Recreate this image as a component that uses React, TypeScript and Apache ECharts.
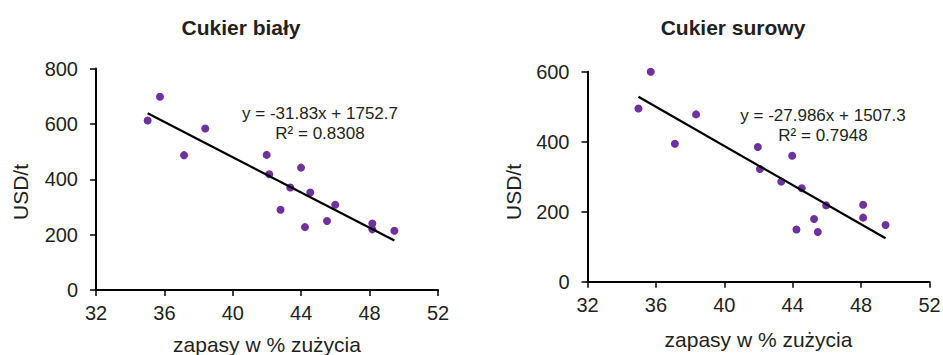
import React, { useEffect, useRef } from "react";
import * as echarts from "echarts";

// stocks as % of consumption (x) and prices USD/t (y)
const whiteX = [35.02, 35.74, 37.15, 38.39, 41.98, 42.13, 42.79, 43.36, 43.99, 44.22, 44.53, 45.51, 45.99, 48.16, 48.16, 49.45];
const whiteY = [612, 698, 487, 583, 488, 418, 290, 370, 442, 227, 352, 249, 308, 240, 219, 214];
const rawX = [34.98, 35.70, 37.11, 38.35, 41.96, 42.08, 43.33, 43.97, 44.22, 44.53, 45.25, 45.47, 45.96, 48.12, 48.12, 49.43];
const rawY = [495, 600, 394, 478, 385, 322, 286, 360, 149, 267, 179, 142, 218, 220, 183, 162];

// trend line coefficients [slope, intercept] and labels
const whiteTrend = [-31.83, 1752.7];
const rawTrend = [-27.986, 1507.3];
const whiteEq = ["y = -31.83x + 1752.7", "R² = 0.8308"];
const rawEq = ["y = -27.986x + 1507.3", "R² = 0.7948"];

const titles = ["Cukier biały", "Cukier surowy"];
const xName = "zapasy w % zużycia";
const yName = "USD/t";
const xTicks = [32, 36, 40, 44, 48, 52];
const whiteYTicks = [0, 200, 400, 600, 800];
const rawYTicks = [0, 200, 400, 600];

const FONT = "Liberation Sans, Arial, sans-serif";
const TXT = "#231f20";
const DOT = "#7030A0";

function pts(xs: number[], ys: number[]) {
  return xs.map((x, i) => [x, ys[i]]);
}
function trend(xs: number[], c: number[]) {
  const lo = Math.min(...xs);
  const hi = Math.max(...xs);
  return [lo, hi].map((x) => [x, c[0] * x + c[1]]);
}

export default function App() {
  const ref = useRef<HTMLDivElement>(null);
  useEffect(() => {
    const chart = echarts.init(ref.current!, null, { renderer: "svg" });
    const axisCommon = {
      axisLine: { show: true, lineStyle: { color: "#000", width: 2 } },
      axisTick: { show: true, inside: false, length: 6, lineStyle: { color: "#000", width: 1.5 } },
      splitLine: { show: false },
    };
    const xAxis = (gi: number, gap: number) => ({
      type: "value",
      gridIndex: gi,
      min: xTicks[0],
      max: xTicks[xTicks.length - 1],
      interval: xTicks[1] - xTicks[0],
      ...axisCommon,
      axisLabel: { color: TXT, fontSize: 20, fontFamily: FONT, margin: 13 },
      name: xName,
      nameLocation: "middle",
      nameGap: gap,
      nameTextStyle: { color: TXT, fontSize: 21, fontFamily: FONT },
    });
    const yAxis = (gi: number, ticks: number[]) => ({
      type: "value",
      gridIndex: gi,
      min: ticks[0],
      max: ticks[ticks.length - 1],
      interval: ticks[1] - ticks[0],
      ...axisCommon,
      axisLabel: { color: TXT, fontSize: 20, fontFamily: FONT, margin: 18 },
    });
    const eqText = (x: number, y: number, lines: string[]) => ({
      type: "text",
      x,
      y,
      style: {
        text: lines.join("\n"),
        fill: TXT,
        font: `17px ${FONT}`,
        align: "center",
        verticalAlign: "top",
        lineHeight: 20,
      },
    });
    chart.setOption({
      animation: false,
      backgroundColor: "#fff",
      grid: [
        { left: 96, top: 68.5, width: 342, height: 221.5, outerBoundsMode: "none", containLabel: false },
        { left: 587.5, top: 71.7, width: 342, height: 210, outerBoundsMode: "none", containLabel: false },
      ],
      title: [
        { text: titles[0], left: 236, top: 12, textAlign: "center", textStyle: { fontSize: 21, fontWeight: "bold", color: TXT, fontFamily: FONT } },
        { text: titles[1], left: 728, top: 12, textAlign: "center", textStyle: { fontSize: 21, fontWeight: "bold", color: TXT, fontFamily: FONT } },
      ],
      xAxis: [xAxis(0, 44), xAxis(1, 47)],
      yAxis: [yAxis(0, whiteYTicks), yAxis(1, rawYTicks)],
      graphic: [
        {
          type: "text", x: 20, y: 192, rotation: Math.PI / 2,
          style: { text: yName, fill: TXT, font: `21px ${FONT}`, align: "center", verticalAlign: "middle" },
        },
        {
          type: "text", x: 513, y: 192, rotation: Math.PI / 2,
          style: { text: yName, fill: TXT, font: `21px ${FONT}`, align: "center", verticalAlign: "middle" },
        },
        eqText(320, 103, whiteEq),
        eqText(823, 105, rawEq),
      ],
      series: [
        {
          type: "line", xAxisIndex: 0, yAxisIndex: 0, data: trend(whiteX, whiteTrend),
          symbol: "none", lineStyle: { color: "#000", width: 2.2 }, z: 3,
        },
        {
          type: "scatter", xAxisIndex: 0, yAxisIndex: 0, data: pts(whiteX, whiteY),
          symbolSize: 8, itemStyle: { color: DOT, opacity: 1 }, z: 2,
        },
        {
          type: "line", xAxisIndex: 1, yAxisIndex: 1, data: trend(rawX, rawTrend),
          symbol: "none", lineStyle: { color: "#000", width: 2.2 }, z: 3,
        },
        {
          type: "scatter", xAxisIndex: 1, yAxisIndex: 1, data: pts(rawX, rawY),
          symbolSize: 8, itemStyle: { color: DOT, opacity: 1 }, z: 2,
        },
      ],
    });
    return () => chart.dispose();
  }, []);
  return (
    <div
      ref={ref}
      style={{ position: "fixed", left: 0, top: 0, width: 943, height: 355, background: "#fff" }}
    />
  );
}
